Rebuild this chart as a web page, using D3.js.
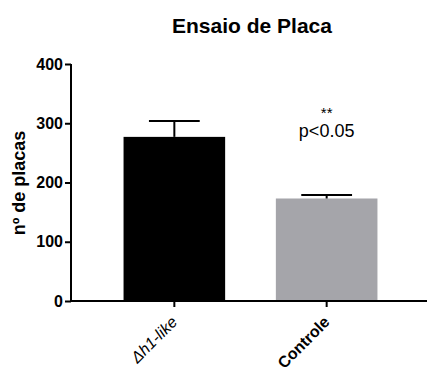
<!DOCTYPE html>
<html>
<head>
<meta charset="utf-8">
<title>Ensaio de Placa</title>
<style>
body { margin:0; background:#fff; }
* { font-family:"Liberation Sans", Arial, sans-serif; }
</style>
<script src="https://cdn.jsdelivr.net/npm/d3@7/dist/d3.min.js"></script>
</head>
<body>
<div id="chart"></div>
<script>
var groups = ["Δh1-like", "Controle"];
var means = [277, 173];
var errors = [27, 6];
var colors = ["#000000", "#a5a5aa"];
var yTicks = [0, 100, 200, 300, 400];

var width = 427, height = 374;
var margin = { left: 71, top: 64, right: 0, bottom: 73 };

var svg = d3.select("#chart").append("svg")
    .attr("width", width)
    .attr("height", height);

var x = d3.scaleBand()
    .domain(groups)
    .range([margin.left, 430])
    .paddingInner(0.333)
    .paddingOuter(0.345);

var y = d3.scaleLinear()
    .domain([0, 400])
    .range([301, 64]);

// bars
svg.selectAll("rect.bar")
    .data(groups)
    .enter()
    .append("rect")
        .attr("class", "bar")
        .attr("x", function(d) { return x(d); })
        .attr("width", x.bandwidth())
        .attr("y", function(d, i) { return y(means[i]); })
        .attr("height", function(d, i) { return y(0) - y(means[i]); })
        .style("fill", function(d, i) { return colors[i]; });

// error bars (upper only)
var capW = x.bandwidth() / 2;
svg.selectAll("line.err")
    .data(groups)
    .enter()
    .append("line")
        .attr("x1", function(d) { return x(d) + x.bandwidth() / 2; })
        .attr("x2", function(d) { return x(d) + x.bandwidth() / 2; })
        .attr("y1", function(d, i) { return y(means[i]); })
        .attr("y2", function(d, i) { return y(means[i] + errors[i]); })
        .style("stroke", "#000")
        .style("stroke-width", "2px");
svg.selectAll("line.cap")
    .data(groups)
    .enter()
    .append("line")
        .attr("x1", function(d) { return x(d) + x.bandwidth() / 2 - capW / 2; })
        .attr("x2", function(d) { return x(d) + x.bandwidth() / 2 + capW / 2; })
        .attr("y1", function(d, i) { return y(means[i] + errors[i]); })
        .attr("y2", function(d, i) { return y(means[i] + errors[i]); })
        .style("stroke", "#000")
        .style("stroke-width", "2px");

// y axis
var yAxis = svg.append("g")
    .attr("transform", "translate(" + margin.left + ",0)")
    .call(d3.axisLeft(y).tickValues(yTicks).tickSize(6).tickPadding(2));
yAxis.select(".domain").style("stroke-width", "2px").attr("d", "M0," + y(400) + "V" + (y(0) + 1));
yAxis.selectAll(".tick line").style("stroke-width", "2px");
yAxis.selectAll("text")
    .style("font-size", "16px")
    .style("font-weight", "bold")
    .style("fill", "#000");

// x axis
var xAxis = svg.append("g")
    .attr("transform", "translate(0," + y(0) + ")")
    .call(d3.axisBottom(x).tickSize(6).tickSizeOuter(0));
xAxis.select(".domain").style("stroke-width", "2px").attr("d", "M" + (margin.left - 1) + ",0H427");
xAxis.selectAll(".tick line").style("stroke-width", "2px");
xAxis.selectAll("text")
    .attr("text-anchor", "end")
    .attr("dy", null)
    .attr("y", 0)
    .attr("transform", "translate(4,22) rotate(-45)")
    .style("font-size", "16px")
    .style("fill", "#000")
    .style("font-weight", function(d, i) { return i === 0 ? "normal" : "bold"; })
    .style("font-style", function(d, i) { return i === 0 ? "italic" : "normal"; });

// significance
var cx2 = x(groups[1]) + x.bandwidth() / 2;
svg.append("text")
    .attr("x", cx2).attr("y", 118)
    .attr("text-anchor", "middle")
    .style("font-size", "15px")
    .text("**");
svg.append("text")
    .attr("x", cx2).attr("y", 137)
    .attr("text-anchor", "middle")
    .style("font-size", "18px")
    .text("p<0.05");

// title
svg.append("text")
    .attr("x", 252).attr("y", 33)
    .attr("text-anchor", "middle")
    .style("font-size", "21px")
    .style("font-weight", "bold")
    .text("Ensaio de Placa");

// y label
svg.append("text")
    .attr("transform", "translate(25," + 183 + ") rotate(-90)")
    .attr("text-anchor", "middle")
    .style("font-size", "18px")
    .style("font-weight", "bold")
    .text("nº de placas");
</script>
</body>
</html>
